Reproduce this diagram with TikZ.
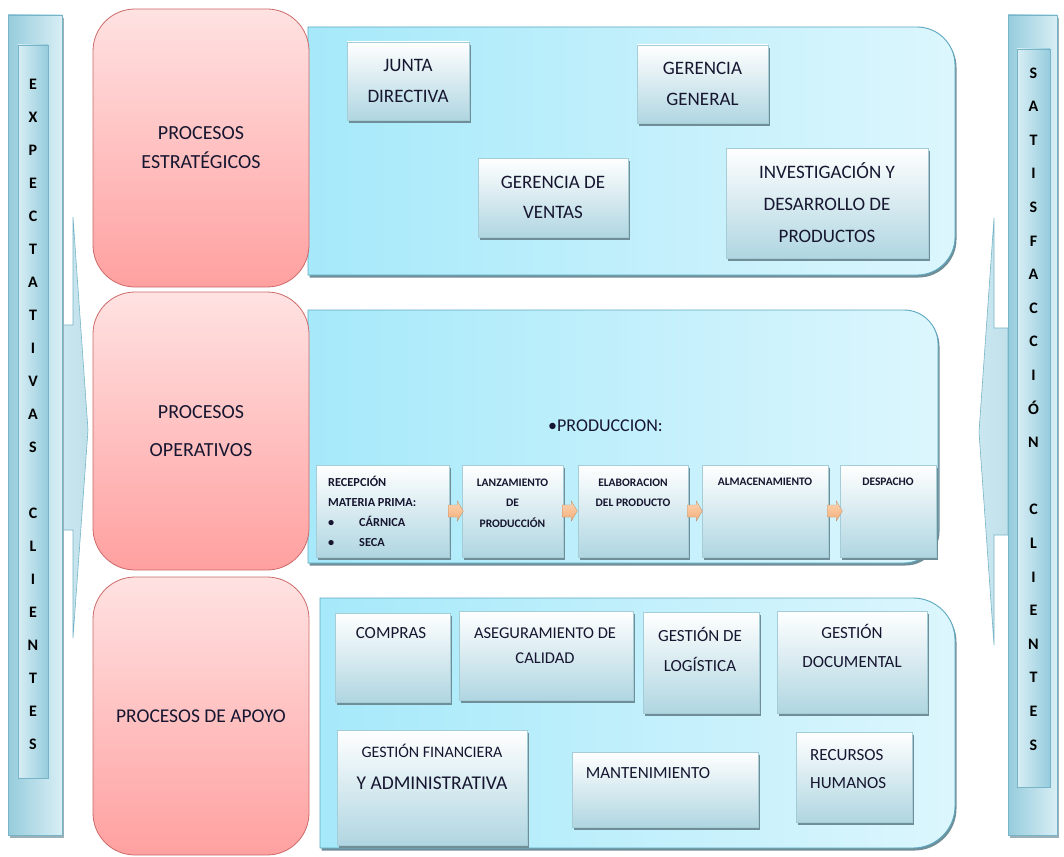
\documentclass[tikz,border=0pt]{standalone}
\usepackage{fontspec}
\setmainfont{Carlito}
\usetikzlibrary{positioning}
\definecolor{ink}{RGB}{22,22,48}
\definecolor{redtop}{RGB}{255,226,226}
\definecolor{redbot}{RGB}{255,160,160}
\definecolor{redline}{RGB}{205,105,105}
\definecolor{panelleft}{RGB}{166,233,250}
\definecolor{panelright}{RGB}{220,246,253}
\definecolor{panelline}{RGB}{92,168,192}
\definecolor{boxbot}{RGB}{176,214,225}
\definecolor{boxline}{RGB}{165,205,216}
\definecolor{shade}{RGB}{112,142,152}
\definecolor{sidedark}{RGB}{150,204,220}
\definecolor{sidelight}{RGB}{216,238,245}
\definecolor{sideline}{RGB}{120,180,200}
\definecolor{orangetop}{RGB}{252,214,180}
\definecolor{orangebot}{RGB}{244,172,120}

\tikzset{
  proc/.style={draw=redline, line width=0.8pt, rounded corners=42pt,
    top color=redtop, bottom color=redbot, text=ink, align=center, inner sep=0pt},
  panel/.style={draw=panelline, line width=0.9pt, left color=panelleft, right color=panelright,
    preaction={fill=shade, transform canvas={xshift=1.5pt, yshift=-2.5pt}}},
  card/.style={draw=boxline, line width=0.6pt, top color=white, bottom color=boxbot, inner sep=0pt,
    preaction={fill=shade, transform canvas={xshift=2pt, yshift=-3pt}}},
  sidebar/.style={draw=sideline, line width=0.6pt, left color=sidedark, right color=sidelight, inner sep=0pt,
    preaction={fill=shade!70, transform canvas={xshift=2pt, yshift=-3pt}}},
  sideinner/.style={draw=sideline, line width=0.8pt, left color=sidelight, right color=sidedark, inner sep=0pt},
  sidehead/.style={draw=sideline, line width=0.6pt, left color=sidelight!80!sidedark, right color=sidedark!60!white},
  sidetxt/.style={text=black, align=center, inner sep=0pt},
  lbl/.style={text=ink, align=center, inner sep=0pt},
  flow/.style={draw=orangebot!80!black, line width=0.3pt, top color=orangetop, bottom color=orangebot}
}

\begin{document}
\begin{tikzpicture}[x=1pt, y=-1pt]
\useasboundingbox (0,0) rectangle (1064,856);

% entrada: expectativas (anchor base = last line)
\draw[sidehead] (62,325) -- (73,325) -- (73,217) -- (88,430) -- (73,638) -- (73,530) -- (62,530) -- cycle;
\node[sidebar, minimum width=54pt, minimum height=820pt] (expbar) at (35,425) {};
\node[sideinner, minimum width=30pt, minimum height=733pt] (expin) at (33,411.5) {};
\node[sidetxt, anchor=base, font=\fontsize{16}{33}\selectfont\bfseries] (exptxt) at (33,749)
  {E\\X\\P\\E\\C\\T\\A\\T\\I\\V\\A\\S\\{}\\C\\L\\I\\E\\N\\T\\E\\S};

% salida: satisfaccion
\draw[sidehead] (1008,328) -- (994,328) -- (994,218) -- (979,432) -- (994,645) -- (994,535) -- (1008,535) -- cycle;
\node[sidebar, minimum width=49pt, minimum height=820pt] (satbar) at (1032.5,425) {};
\node[sideinner, minimum width=33pt, minimum height=738pt] (satin) at (1033.5,418) {};
\node[sidetxt, anchor=base, font=\fontsize{16}{33.6}\selectfont\bfseries] (sattxt) at (1033.5,750)
  {S\\A\\T\\I\\S\\F\\A\\C\\C\\I\\Ó\\N\\{}\\C\\L\\I\\E\\N\\T\\E\\S};

% paneles
\draw[panel] (308,27) -- (600,27) [rounded corners=38pt] -- (955,27) -- (955,275) -- (600,275)
  [sharp corners] -- (308,275) -- cycle;
\draw[panel] (308,310) -- (600,310) [rounded corners=34pt] -- (938,310) -- (938,563) -- (600,563)
  [sharp corners] -- (308,563) -- cycle;
\draw[panel] (320,598) -- (600,598) [rounded corners=42pt] -- (955,598) -- (955,848) -- (600,848)
  [sharp corners] -- (320,848) -- cycle;

% procesos
\node[proc, minimum width=216pt, minimum height=278pt, font=\fontsize{20}{29}\selectfont] (estrat) at (201,148)
  {PROCESOS\\ESTRATÉGICOS};
\node[proc, minimum width=216pt, minimum height=278pt, font=\fontsize{20}{38}\selectfont] (operat) at (201,431)
  {PROCESOS\\OPERATIVOS};
\node[proc, minimum width=216pt, minimum height=278pt, font=\fontsize{19.5}{29}\selectfont] (apoyo) at (201,716)
  {PROCESOS DE APOYO};

% estrategicos
\node[card, minimum width=122pt, minimum height=78pt, align=center, text=ink, font=\fontsize{19}{31}\selectfont]
  (junta) at (408,81) {JUNTA\\DIRECTIVA};
\node[card, minimum width=131pt, minimum height=78pt, align=center, text=ink, font=\fontsize{19}{31}\selectfont]
  (gergen) at (702.5,84) {GERENCIA\\GENERAL};
\node[card, minimum width=150pt, minimum height=79pt, align=center, text=ink, font=\fontsize{19}{30}\selectfont]
  (gerven) at (553,197.5) {GERENCIA DE\\VENTAS};
\node[card, minimum width=202pt, minimum height=110pt, align=center, text=ink, font=\fontsize{19}{32}\selectfont]
  (invest) at (827,203) {INVESTIGACIÓN Y\\DESARROLLO DE\\PRODUCTOS};

% operativos
\node[lbl, anchor=base west, font=\fontsize{18}{20}\selectfont] (produc) at (548,431) {\textbullet PRODUCCION:};
\node[card, minimum width=133pt, minimum height=92pt] (recep) at (382.5,511) {};
\node[card, minimum width=101pt, minimum height=92pt] (lanza) at (512.5,511) {};
\node[card, minimum width=110pt, minimum height=92pt] (elabo) at (633,511) {};
\node[card, minimum width=126pt, minimum height=92pt] (almac) at (765,511) {};
\node[card, minimum width=96pt, minimum height=92pt] (despa) at (888,511) {};
\node[lbl, anchor=base west, align=left, font=\fontsize{12.3}{19.7}\selectfont\bfseries] (recepT) at (328,546)
  {RECEPCIÓN\\MATERIA PRIMA:\\\makebox[31pt][l]{\textbullet}CÁRNICA\\\makebox[31pt][l]{\textbullet}SECA};
\node[lbl, anchor=base, font=\fontsize{11.5}{20.5}\selectfont\bfseries] (lanzaT) at (512.5,527)
  {LANZAMIENTO\\DE\\PRODUCCIÓN};
\node[lbl, anchor=base, font=\fontsize{11.5}{20}\selectfont\bfseries] (elaboT) at (633,506)
  {ELABORACION\\DEL PRODUCTO};
\node[lbl, anchor=base, font=\fontsize{11.5}{20}\selectfont\bfseries] (almacT) at (765,485) {ALMACENAMIENTO};
\node[lbl, anchor=base, font=\fontsize{11.5}{20}\selectfont\bfseries] (despaT) at (888,485) {DESPACHO};
\foreach \a in {recep, lanza, elabo, almac}
  \draw[flow] (\a.east) ++(-1,-6) -- ++(9,0) -- ++(0,-4) -- ++(6,10) -- ++(-6,10) -- ++(0,-4) -- ++(-9,0) -- cycle;

% apoyo
\node[card, minimum width=115pt, minimum height=89pt] (compras) at (392.5,657.5) {};
\node[card, minimum width=174pt, minimum height=89pt] (asegur) at (546,655.5) {};
\node[card, minimum width=116pt, minimum height=101pt] (logist) at (701,662.5) {};
\node[card, minimum width=150pt, minimum height=102pt] (docum) at (852,662) {};
\node[card, minimum width=190pt, minimum height=115pt] (financ) at (432,787.5) {};
\node[card, minimum width=186pt, minimum height=75pt] (manten) at (665,789.5) {};
\node[card, minimum width=116pt, minimum height=90pt] (recurs) at (854,777) {};
\node[lbl, anchor=base, font=\fontsize{17}{29}\selectfont] (comprasT) at (391,638.5) {COMPRAS};
\node[lbl, anchor=base, font=\fontsize{16.5}{25}\selectfont] (asegurT) at (545,663.5) {ASEGURAMIENTO DE\\CALIDAD};
\node[lbl, anchor=base, font=\fontsize{17}{30}\selectfont] (logistT) at (700,671) {GESTIÓN DE\\LOGÍSTICA};
\node[lbl, anchor=base, font=\fontsize{17}{29}\selectfont] (documT) at (852,667.5) {GESTIÓN\\DOCUMENTAL};
\node[lbl, anchor=base, font=\fontsize{16}{32}\selectfont] (financT) at (432,789.5)
  {GESTIÓN FINANCIERA\\{\fontsize{19.5}{32}\selectfont Y ADMINISTRATIVA}};
\node[lbl, anchor=base, font=\fontsize{17}{29}\selectfont] (mantenT) at (648,778.5) {MANTENIMIENTO};
\node[lbl, anchor=base west, align=left, font=\fontsize{17}{28}\selectfont] (recursT) at (810,788.5)
  {RECURSOS\\HUMANOS};
\end{tikzpicture}
\end{document}
